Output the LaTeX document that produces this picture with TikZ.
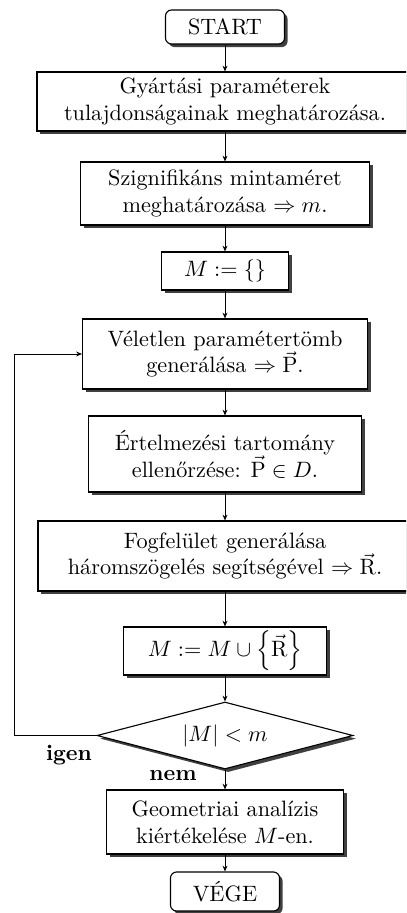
\documentclass[tikz,border=0pt]{standalone}
\usetikzlibrary{shapes.geometric,shadows,arrows.meta}
\newcommand\pxu{0.45pt}
\begin{document}
\begin{tikzpicture}[x=0.45pt,y=-0.45pt,
  shd/.style={drop shadow={shadow xshift=1.4pt, shadow yshift=-1.4pt, fill=black!75, opacity=1}},
  box/.style={draw, line width=0.5pt, fill=white, align=center, inner sep=0pt, shd},
  term/.style={box, rounded corners=2.7pt},
  dec/.style={draw, line width=0.5pt, fill=white, shape=diamond, aspect=3.8, inner sep=0pt, shd},
  arr/.style={draw, line width=0.45pt, -{Stealth[length=2.6pt,width=2.2pt]}},
  lbl/.style={font=\bfseries, inner sep=0pt}]
\useasboundingbox (0,0) rectangle (406,913);
\clip (0,0) rectangle (406,913);
\node[term, minimum width=119*\pxu, minimum height=34*\pxu] (start) at (225,27) {START};
\node[box, minimum width=376*\pxu, minimum height=59*\pxu] (b1) at (225,101.5) {Gyártási paraméterek\\ tulajdonságainak meghatározása.};
\node[box, minimum width=289*\pxu, minimum height=63*\pxu] (b2) at (225,193.5) {Szignifikáns mintaméret\\ meghatározása $\Rightarrow m$.};
\node[box, minimum width=127*\pxu, minimum height=38*\pxu] (b3) at (225,271) {$M := \{\}$};
\node[box, minimum width=285*\pxu, minimum height=70*\pxu] (b4) at (225,354) {Véletlen paramétertömb\\ generálása $\Rightarrow \vec{\mathrm{P}}$.};
\node[box, minimum width=273*\pxu, minimum height=76*\pxu] (b5) at (225,454) {Értelmezési tartomány\\ ellenőrzése: $\vec{\mathrm{P}} \in D$.};
\node[box, minimum width=374*\pxu, minimum height=70*\pxu] (b6) at (225,556) {Fogfelület generálása\\ háromszögelés segítségével $\Rightarrow \vec{\mathrm{R}}$.};
\node[box, minimum width=203*\pxu, minimum height=48*\pxu] (b7) at (225,651) {$M := M \cup \left\{\vec{\mathrm{R}}\right\}$};
\node[dec, minimum width=256*\pxu, minimum height=67*\pxu] (d) at (225,735.5) {$|M| < m$};
\node[box, minimum width=237*\pxu, minimum height=64*\pxu] (b8) at (225,822) {Geometriai analízis\\ kiértékelése $M$-en.};
\node[term, minimum width=109*\pxu, minimum height=39*\pxu] (end) at (225,891.5) {VÉGE};
\node[lbl] (igen) at (69,755) {igen};
\node[lbl] (nem) at (173,776) {nem};
\coordinate (lp) at (14,735.5);
\draw[arr] (start) -- (b1);
\draw[arr] (b1) -- (b2);
\draw[arr] (b2) -- (b3);
\draw[arr] (b3) -- (b4);
\draw[arr] (b4) -- (b5);
\draw[arr] (b5) -- (b6);
\draw[arr] (b6) -- (b7);
\draw[arr] (b7) -- (d);
\draw[arr] (d) -- (b8);
\draw[arr] (b8) -- (end);
\draw[arr] (d.west) -- (lp) |- (b4.west);
\end{tikzpicture}
\end{document}
